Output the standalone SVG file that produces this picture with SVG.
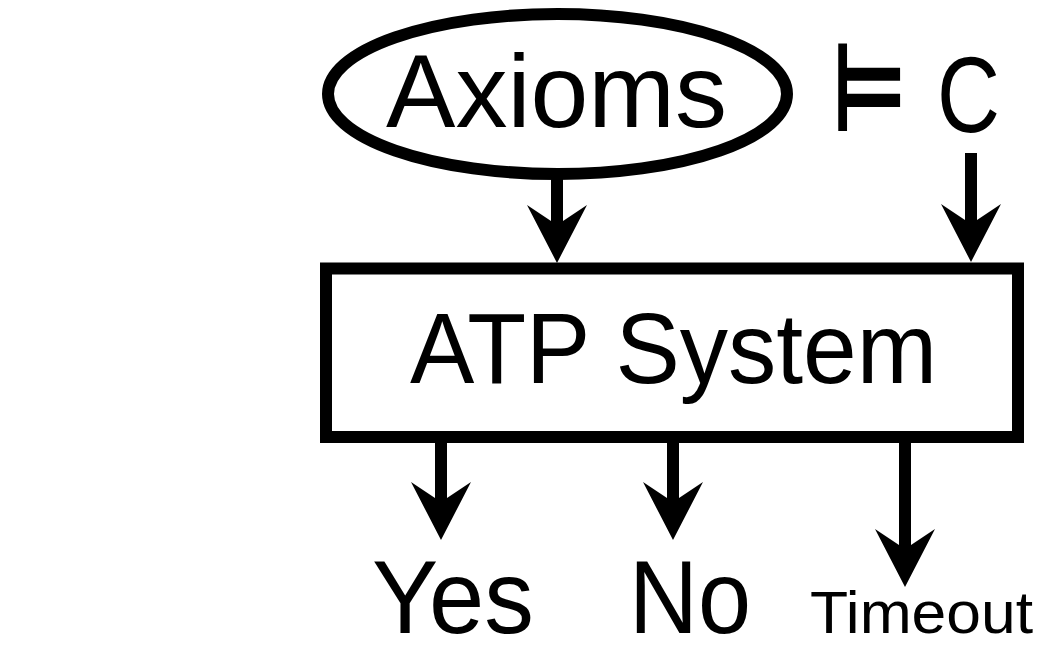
<svg xmlns="http://www.w3.org/2000/svg" width="1049" height="658" viewBox="0 0 1049 658">
  <style>
    .shape { fill: none; stroke: #000; stroke-width: 12; }
    .label { font-family: "Liberation Sans", Arial, Helvetica, sans-serif; fill: #000; }
    .edge { stroke: #000; stroke-width: 12; fill: none; marker-end: url(#head); }
  </style>
  <defs>
    <marker id="head" viewBox="0 -31 60 62" markerUnits="userSpaceOnUse" markerWidth="60" markerHeight="62" refX="24" refY="0" orient="auto">
      <path d="M0,-30 L58,0 L0,30 L20,0 Z" fill="#000"/>
    </marker>
  </defs>
  <rect width="1049" height="658" fill="#fff"/>

  <g id="axioms">
    <ellipse class="shape" cx="557.5" cy="94" rx="229.5" ry="80"/>
    <text class="label" x="386" y="127" font-size="104" textLength="341" lengthAdjust="spacingAndGlyphs">Axioms</text>
  </g>

  <g id="entails">
    <text x="831" y="131" font-family="DejaVu Sans, sans-serif" font-weight="bold" font-size="124" textLength="76" lengthAdjust="spacingAndGlyphs">⊨</text>
  </g>

  <g id="conjecture">
    <text class="label" x="937" y="132" font-size="108" textLength="63" lengthAdjust="spacingAndGlyphs">C</text>
  </g>

  <g id="atp-system">
    <rect class="shape" x="326" y="268.5" width="692" height="168.5"/>
    <text class="label" x="410" y="383" font-size="100" textLength="527" lengthAdjust="spacingAndGlyphs">ATP System</text>
  </g>

  <g id="yes">
    <text class="label" x="372" y="633" font-size="104" textLength="162" lengthAdjust="spacingAndGlyphs">Yes</text>
  </g>

  <g id="no">
    <text class="label" x="629" y="633" font-size="104" textLength="122" lengthAdjust="spacingAndGlyphs">No</text>
  </g>

  <g id="timeout">
    <text class="label" x="810" y="633" font-size="60" textLength="223" lengthAdjust="spacingAndGlyphs">Timeout</text>
  </g>

  <g id="connectors">
    <line class="edge" x1="557" y1="176" x2="557" y2="229"/>
    <line class="edge" x1="971" y1="153" x2="971" y2="228"/>
    <line class="edge" x1="441" y1="440" x2="441" y2="506"/>
    <line class="edge" x1="673" y1="440" x2="673" y2="506"/>
    <line class="edge" x1="905" y1="440" x2="905" y2="553"/>
  </g>
</svg>
